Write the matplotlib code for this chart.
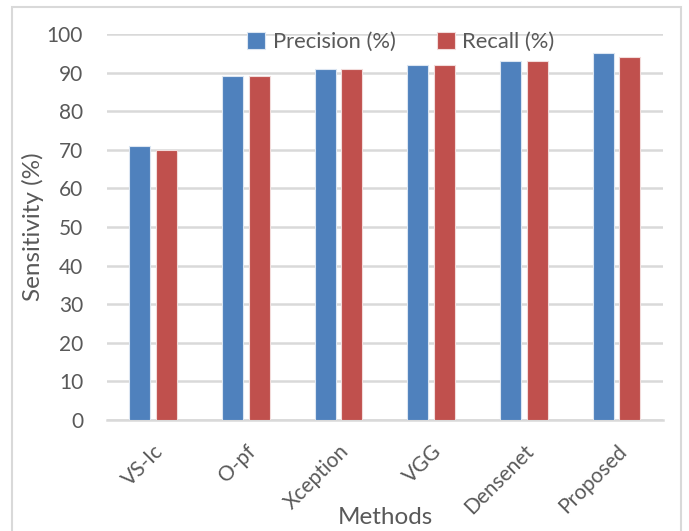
import matplotlib
matplotlib.use("Agg")
import matplotlib.pyplot as plt
import numpy as np
from matplotlib.patches import Rectangle

categories = ["VS-Ic", "O-pf", "Xception", "VGG", "Densenet", "Proposed"]
precision = [71, 89, 91, 92, 93, 95]
recall = [70, 89, 91, 92, 93, 94]
yticks = [0, 10, 20, 30, 40, 50, 60, 70, 80, 90, 100]

plt.rcParams['font.family'] = ['Lato', 'DejaVu Sans']
W, H = 689, 531
fig = plt.figure(figsize=(W / 100, H / 100), dpi=100)
axw, axh = 663 - 106.7, 420 - 34
ax = fig.add_axes([106.7 / W, 1 - 420 / H, axw / W, axh / H])

x = np.arange(len(categories))
bw = 0.226
off = 0.143
ax.bar(x - off, precision, bw, color="#4F81BD", edgecolor="#DCE6F2", linewidth=0.8,
       label="Precision (%)", zorder=3)
ax.bar(x + off, recall, bw, color="#C0504D", edgecolor="#F2DCDB", linewidth=0.8,
       label="Recall (%)", zorder=3)

ax.set_xlim(-0.5, len(categories) - 0.5)
ax.set_ylim(0, 100)
ax.set_yticks(yticks)
ax.yaxis.grid(True, color="#D9D9D9", linewidth=1.8, zorder=0)
ax.set_axisbelow(True)
for s in ["top", "right", "left"]:
    ax.spines[s].set_visible(False)
ax.spines["bottom"].set_color("#D9D9D9")
ax.spines["bottom"].set_linewidth(1.8)
ax.tick_params(axis="both", length=0, colors="#595959")
ax.tick_params(axis="y", pad=17, labelsize=15)
ax.set_xticks(x)
ax.set_xticklabels(categories, rotation=45, ha="right", rotation_mode="anchor", fontsize=15)
ax.tick_params(axis="x", pad=15)

ax.set_ylabel("Sensitivity (%)", fontsize=17.5, color="#595959")
ax.yaxis.label.set_va("center")
ax.yaxis.set_label_coords((33 - 106.7) / axw, 0.5)
ax.set_xlabel("Methods", fontsize=17.5, color="#595959")
ax.xaxis.label.set_va("center")
ax.xaxis.set_label_coords((385 - 106.7) / axw, -(517 - 420) / axh)

leg = ax.legend(loc="center", bbox_to_anchor=(401 / W, 1 - 42 / H), bbox_transform=fig.transFigure,
                ncol=2, frameon=False, fontsize=15.8, handlelength=0.8, handleheight=0.8,
                columnspacing=1.9, handletextpad=0.35)
for t in leg.get_texts():
    t.set_color("#595959")

fig.patches.append(Rectangle((12 / W, -0.01), (681 - 12) / W, 1 - 7 / H + 0.01,
                             transform=fig.transFigure, fill=False, edgecolor="#D9D9D9",
                             linewidth=1.5))

fig.savefig("out.png", dpi=100)
